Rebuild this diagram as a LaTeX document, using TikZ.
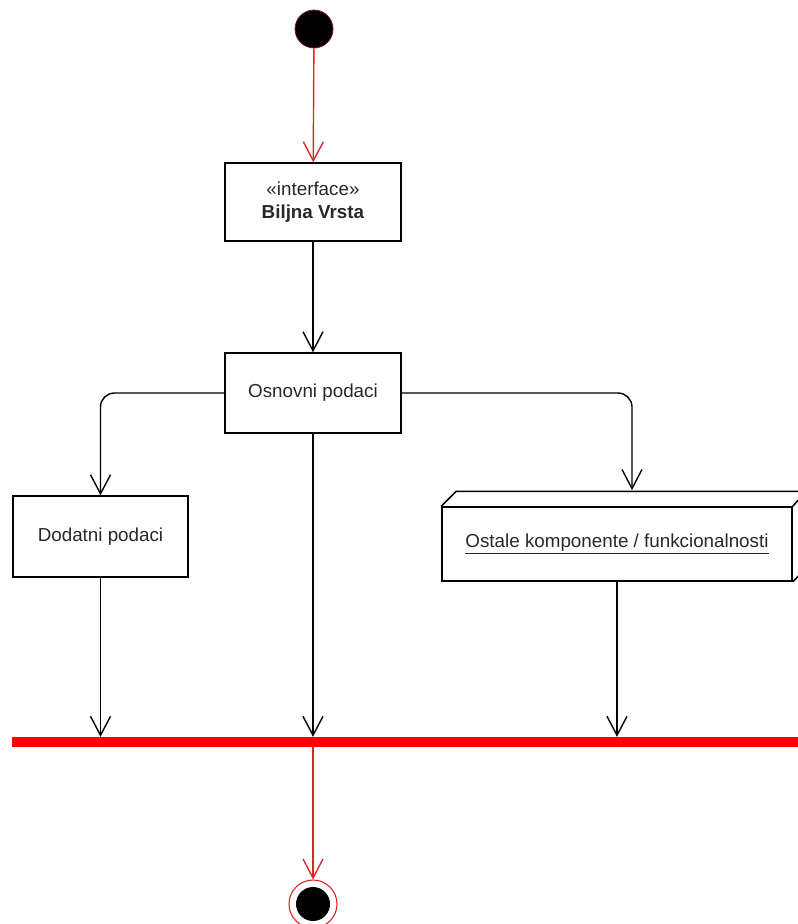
\documentclass[tikz,border=0pt]{standalone}
\usepackage{fontspec}
\setmainfont{Liberation Sans}
\usetikzlibrary{arrows.meta}
\definecolor{txt}{RGB}{40,40,40}
\definecolor{redln}{RGB}{215,40,40}
\tikzset{
  box/.style={draw=black, line width=1.5pt, fill=white, inner sep=0pt, text=txt, font=\fontsize{18.8}{22.5}\selectfont, align=center},
  arr/.style={line width=1.4pt, -{Straight Barb[length=19pt, width=20pt, line width=1.4pt]}},
  redarr/.style={arr, draw=redln},
}
\begin{document}
\begin{tikzpicture}[x=1pt,y=-1pt]
\useasboundingbox (0,0) rectangle (798,924);
\clip (0,0) rectangle (798,924);
% nodes
\node[circle, fill=black, draw=redln!60!black, line width=0.8pt, minimum size=38pt, inner sep=0pt] (start) at (314,29) {};
\node[box, minimum width=176pt, minimum height=78pt] (iface) at (313,202) {«interface»\\\textbf{Biljna Vrsta}};
\node[box, minimum width=176pt, minimum height=80pt] (osn) at (313,393) {Osnovni podaci};
\node[box, minimum width=175pt, minimum height=81pt] (dod) at (100.5,536.5) {Dodatni podaci};
\node[box, minimum width=350pt, minimum height=74pt] (ost) at (617,544) {\underline{Ostale komponente / funkcionalnosti}};
\draw[line width=1.5pt, line join=round] (ost.north west) -- ++(15,-15) -- ++(350,0) -- (ost.north east);
\draw[line width=1.5pt, line join=round] (ost.south east) -- ++(15,-15) -- ++(0,-74);
\coordinate (osttop) at (632,490);
\node[fill=red, minimum width=820pt, minimum height=10pt, inner sep=0pt] (bar) at (422,742) {};
\node[circle, draw=redln, line width=1.1pt, fill=white, minimum size=48pt, inner sep=0pt] (end) at (313,904) {};
\node[circle, fill=black, minimum size=34pt, inner sep=0pt] (endin) at (end.center) {};
% connectors
\draw[redarr] (start) -- (iface);
\draw[arr] (iface) -- (osn);
\draw[arr, rounded corners=14pt] (osn.west) -| (dod.north);
\draw[arr, rounded corners=14pt] (osn.east) -| (osttop);
\draw[arr] (dod.south) -- (dod.south |- bar.north);
\draw[arr] (osn.south) -- (osn.south |- bar.north);
\draw[arr] (ost.south) -- (ost.south |- bar.north);
\draw[redarr] (osn.south |- bar.south) -- (end.north);
\end{tikzpicture}
\end{document}
